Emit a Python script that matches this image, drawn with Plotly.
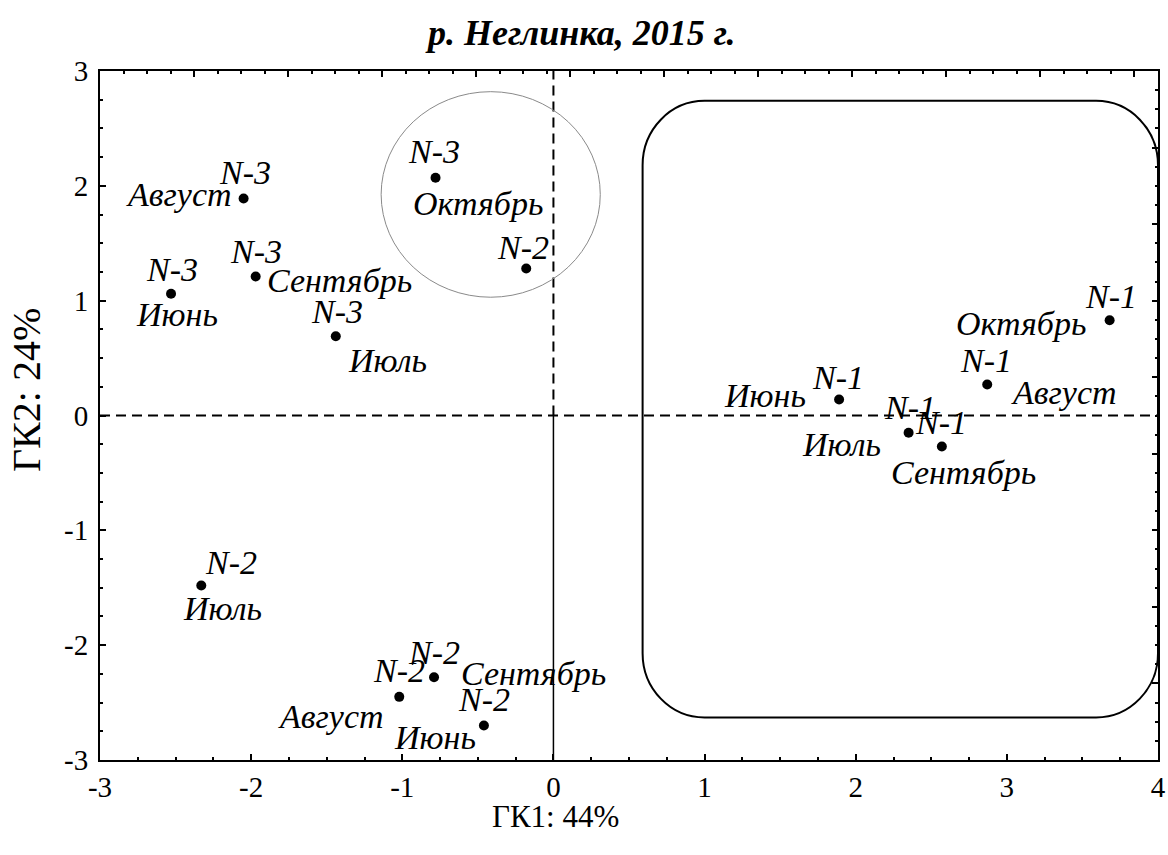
import plotly.graph_objects as go

# Canonical scores (first two discriminant functions), p. Neglinka, 2015
gk1 = [-2.05, -1.97, -2.53, -1.44, -0.78, -0.18,
       -2.33, -1.02, -0.79, -0.46,
       3.68, 2.87, 1.89, 2.35, 2.57]
gk2 = [1.89, 1.21, 1.06, 0.69, 2.07, 1.28,
       -1.48, -2.45, -2.28, -2.70,
       0.83, 0.27, 0.14, -0.15, -0.27]
sites = ["N-3", "N-3", "N-3", "N-3", "N-3", "N-2",
         "N-2", "N-2", "N-2", "N-2",
         "N-1", "N-1", "N-1", "N-1", "N-1"]
months = ["Август", "Сентябрь", "Июнь", "Июль", "Октябрь", "",
          "Июль", "Август", "Сентябрь", "Июнь",
          "Октябрь", "Август", "Июнь", "Июль", "Сентябрь"]

x_ticks = [-3, -2, -1, 0, 1, 2, 3, 4]
x_tick_text = ["-3", "-2", "-1", "0", "1", "2", "3", "4"]
y_ticks = [-3, -2, -1, 0, 1, 2, 3]
y_tick_text = ["-3", "-2", "-1", "0", "1", "2", "3"]

# Label placement (pixel offsets from each point)
site_shift = [(1, 26), (0, 25), (1, 24), (1, 25), (-2, 26), (-3, 21),
              (30, 23), (0, 26), (0, 25), (0, 26),
              (1, 24), (-1, 24), (-1, 22), (1, 25), (-1, 24)]
month_pos = [("right", -10, 4), ("left", 9, -4), ("center", 6, -21),
             ("left", 10, -24), ("center", 42, -26), ("center", 0, 0),
             ("center", 21, -23), ("right", -13, -20), ("left", 25, 4),
             ("right", -6, -12),
             ("right", -22, -3), ("left", 22, -8), ("right", -31, 4),
             ("right", -26, -12), ("center", 22, -26)]

# Cluster outlines
ellipse_box = (-1.14, 1.03, 0.31, 2.82)
rrect_box = (0.59, -2.63, 4.0, 2.74)
rrect_rx, rrect_ry = 0.41, 0.56

FONT = "Liberation Serif"
LBL = 34

fig = go.Figure()
fig.add_trace(go.Scatter(x=gk1, y=gk2, mode="markers",
                         marker=dict(color="black", size=10),
                         showlegend=False, hoverinfo="skip"))
# secondary frame axes (top / right)
fig.add_trace(go.Scatter(x=[0.5], y=[0.5], xaxis="x2", yaxis="y2", mode="markers",
                         marker=dict(opacity=0), showlegend=False, hoverinfo="skip"))

for i in range(len(gk1)):
    dx, dy = site_shift[i]
    fig.add_annotation(x=gk1[i], y=gk2[i], text=sites[i], showarrow=False,
                       xshift=dx, yshift=dy, xanchor="center", yanchor="middle",
                       font=dict(family=FONT, size=LBL, style="italic", color="black"))
    if months[i]:
        anc, mx, my = month_pos[i]
        fig.add_annotation(x=gk1[i], y=gk2[i], text=months[i], showarrow=False,
                           xshift=mx, yshift=my, xanchor=anc, yanchor="middle",
                           font=dict(family=FONT, size=LBL, style="italic", color="black"))

# reference lines through the origin
fig.add_shape(type="line", x0=-3, x1=4, y0=0, y1=0, xref="x", yref="y",
              line=dict(color="black", width=2, dash="10px,6px"))
fig.add_shape(type="line", x0=0, x1=0, y0=0, y1=3, xref="x", yref="y",
              line=dict(color="black", width=2, dash="10px,6px"))
fig.add_shape(type="line", x0=0, x1=0, y0=-3, y1=0, xref="x", yref="y",
              line=dict(color="black", width=1.5))

# grey ellipse around the N-3 / N-2 October points
ex0, ey0, ex1, ey1 = ellipse_box
fig.add_shape(type="circle", x0=ex0, y0=ey0, x1=ex1, y1=ey1, xref="x", yref="y",
              line=dict(color="#8a8a8a", width=1))

# rounded rectangle around the N-1 group
rx0, ry0, rx1, ry1 = rrect_box
k = 0.5523
ax_, ay_ = rrect_rx, rrect_ry
path = (
    f"M {rx0 + ax_},{ry1} L {rx1 - ax_},{ry1} "
    f"C {rx1 - ax_ + k * ax_},{ry1} {rx1},{ry1 - ay_ + k * ay_} {rx1},{ry1 - ay_} "
    f"L {rx1},{ry0 + ay_} "
    f"C {rx1},{ry0 + ay_ - k * ay_} {rx1 - ax_ + k * ax_},{ry0} {rx1 - ax_},{ry0} "
    f"L {rx0 + ax_},{ry0} "
    f"C {rx0 + ax_ - k * ax_},{ry0} {rx0},{ry0 + ay_ - k * ay_} {rx0},{ry0 + ay_} "
    f"L {rx0},{ry1 - ay_} "
    f"C {rx0},{ry1 - ay_ + k * ay_} {rx0 + ax_ - k * ax_},{ry1} {rx0 + ax_},{ry1} Z"
)
fig.add_shape(type="path", path=path, xref="x", yref="y",
              line=dict(color="black", width=2))

# title and axis titles
fig.add_annotation(text="<b><i>р. Неглинка, 2015 г.</i></b>", xref="paper", yref="paper",
                   x=(580 - 100) / 1058, y=1 + (71 - 33) / 689, showarrow=False,
                   xanchor="center", yanchor="middle",
                   font=dict(family=FONT, size=36, color="black"))
fig.add_annotation(text="ГК1: 44%", xref="paper", yref="paper",
                   x=(555 - 100) / 1058, y=-(816 - 760) / 689, showarrow=False,
                   xanchor="center", yanchor="middle",
                   font=dict(family=FONT, size=31, color="black"))
fig.add_annotation(text="ГК2: 24%", xref="paper", yref="paper", textangle=-90,
                   x=-(100 - 26) / 1058, y=(760 - 390) / 689, showarrow=False,
                   xanchor="center", yanchor="middle",
                   font=dict(family=FONT, size=40, color="black"))

tickfont = dict(family=FONT, size=29, color="black")
minor_in = dict(dtick=0.25, ticks="inside", ticklen=3, tickwidth=1.5, tickcolor="black")
frame_minor = dict(dtick=0.25, ticks="inside", ticklen=3, tickwidth=1.5, tickcolor="black")
fig.update_layout(
    width=1168, height=855,
    margin=dict(l=100, r=10, t=71, b=95, autoexpand=False),
    paper_bgcolor="white", plot_bgcolor="white",
    xaxis=dict(range=[-3, 4], tickvals=x_ticks, ticktext=x_tick_text,
               ticks="inside", ticklen=6, tickwidth=1.5, tickcolor="black",
               minor=minor_in, automargin=False,
               showgrid=False, zeroline=False, showline=True, linecolor="black",
               linewidth=2, mirror=True, tickfont=tickfont, ticklabelstandoff=0),
    yaxis=dict(range=[-3, 3], tickvals=y_ticks, ticktext=y_tick_text,
               ticks="inside", ticklen=6, tickwidth=1.5, tickcolor="black",
               minor=minor_in, automargin=False,
               showgrid=False, zeroline=False, showline=True, linecolor="black",
               linewidth=2, mirror=True, tickfont=tickfont, ticklabelstandoff=4),
    xaxis2=dict(overlaying="x", side="top", anchor="y", range=[-1, 10.25],
                tickmode="linear", dtick=1, tick0=0, automargin=False,
                ticks="inside", ticklen=6, tickwidth=1.5, tickcolor="black",
                minor=frame_minor,
                showticklabels=False, showgrid=False, zeroline=False,
                showline=True, linecolor="black", linewidth=2),
    yaxis2=dict(overlaying="y", side="right", anchor="x", range=[0, 9],
                tickmode="linear", dtick=1, tick0=0, automargin=False,
                ticks="inside", ticklen=6, tickwidth=1.5, tickcolor="black",
                minor=frame_minor,
                showticklabels=False, showgrid=False, zeroline=False,
                showline=True, linecolor="black", linewidth=2),
)

fig.write_html("out.html")
